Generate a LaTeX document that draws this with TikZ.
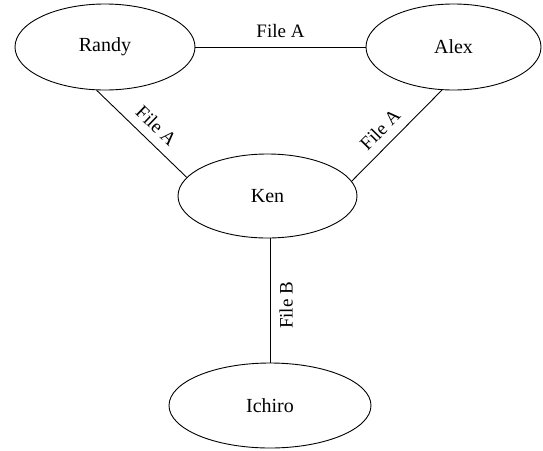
\documentclass[tikz,border=0pt]{standalone}
\usepackage{fontspec}
\setmainfont{Liberation Serif}
\usetikzlibrary{shapes.geometric}
\tikzset{
  person/.style={draw, ellipse, line width=0.9pt, inner sep=0pt,
    font=\fontsize{20}{24}\selectfont},
  link/.style={line width=0.9pt},
  lab/.style={font=\fontsize{19}{23}\selectfont, inner sep=0pt, inner ysep=9pt}
}
\begin{document}
\begin{tikzpicture}[x=1pt,y=-1pt]
  \useasboundingbox (0,0) rectangle (543,450);
  \node[person, minimum width=180pt, minimum height=86pt] (Randy) at (105,47) {Randy};
  \node[person, minimum width=175pt, minimum height=86pt] (Alex) at (453.5,47) {Alex};
  \node[person, minimum width=179pt, minimum height=84pt] (Ken) at (267.5,196) {Ken};
  \node[person, minimum width=202pt, minimum height=85pt] (Ichiro) at (270,405.5) {Ichiro};

  \draw[link] (Randy.east) -- node[lab, above] {File A} (Alex.west);
  \draw[link] (Randy.259) -- node[lab, sloped, above, pos=0.54] {File A} (Ken.167.7);
  \draw[link] (Ken.10) -- node[lab, sloped, above, pos=0.44] {File A} (Alex.255);
  \draw[link] (Ichiro.north) -- node[lab, sloped, below, pos=0.46] {File B} (Ichiro.north |- Ken.south);
\end{tikzpicture}
\end{document}
